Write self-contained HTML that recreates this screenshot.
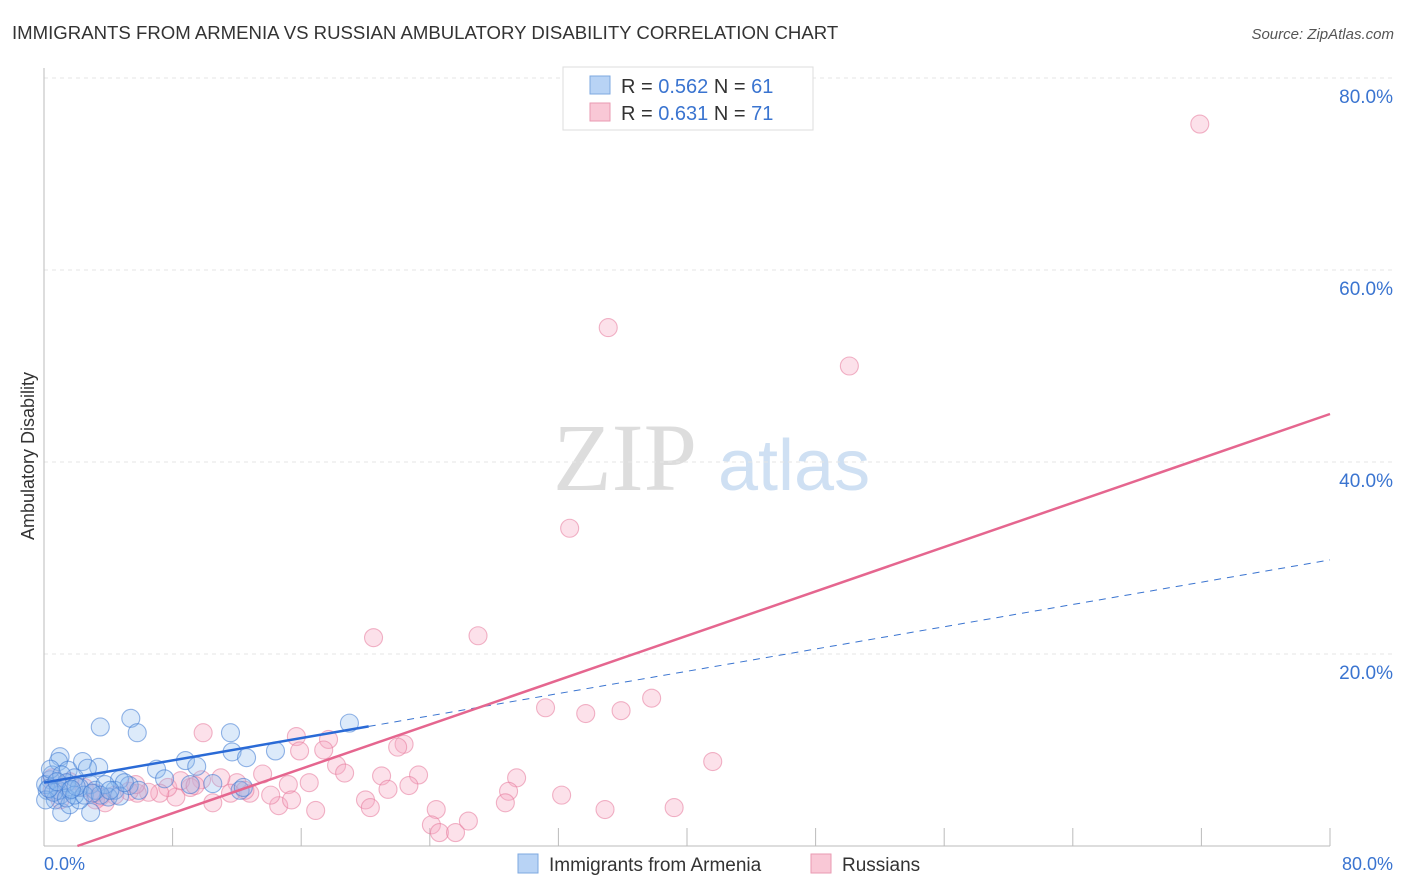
<!DOCTYPE html>
<html><head><meta charset="utf-8">
<style>
body{margin:0;background:#fff;font-family:"Liberation Sans",sans-serif;}
#wrap{position:relative;width:1406px;height:892px;overflow:hidden;}
</style></head><body>
<div id="wrap">
<svg id="chart" width="1406" height="892" xmlns="http://www.w3.org/2000/svg">
<text x="12" y="39" font-size="18.6" fill="#333">IMMIGRANTS FROM ARMENIA VS RUSSIAN AMBULATORY DISABILITY CORRELATION CHART</text>
<text x="1394" y="39" font-size="15" fill="#555" font-style="italic" text-anchor="end">Source: ZipAtlas.com</text>
<text x="34" y="456" font-size="18" fill="#333" text-anchor="middle" transform="rotate(-90 34 456)">Ambulatory Disability</text>
<text x="553" y="490" font-size="96" fill="#ddd" font-family="Liberation Serif,serif">ZIP</text>
<text x="718" y="490" font-size="72" fill="#cfe0f3">atlas</text>
<g id="grid"></g><g id="pts"></g><g id="lines"></g>
<g>
<rect x="563" y="67" width="250" height="63" fill="#fff" stroke="#ddd"/>
<rect x="590" y="76" width="20" height="18" fill="#b8d3f5" stroke="#7ea8e0"/>
<text x="621" y="93" font-size="20" fill="#333">R = <tspan fill="#3a74d0">0.562</tspan>   N = <tspan fill="#3a74d0">61</tspan></text>
<rect x="590" y="103" width="20" height="18" fill="#f9c8d6" stroke="#e99ab2"/>
<text x="621" y="120" font-size="20" fill="#333">R =  <tspan fill="#3a74d0">0.631</tspan>   N = <tspan fill="#3a74d0">71</tspan></text>
</g>
<g>
<rect x="518" y="854" width="20" height="19" fill="#b8d3f5" stroke="#7ea8e0"/>
<text x="549" y="871" font-size="19" fill="#333">Immigrants from Armenia</text>
<rect x="811" y="854" width="20" height="19" fill="#f9c8d6" stroke="#e99ab2"/>
<text x="842" y="871" font-size="19" fill="#333">Russians</text>
</g>
</svg>
</div>
<script>
const yTicks=[20,40,60,80];
const yTickLabels=["20.0%","40.0%","60.0%","80.0%"];
const xTickLabels=["0.0%","80.0%"];
const armeniaX=[1,0.9,1.5,2.4,3.4,2.7,3.5,5.4,5.8,7,8.8,9.5,11.6,11.7,12.6,14.4,19,4.7,5.3,4.4,2.9,1,1.6,0.4,0.2,0.7,1.1,2.9,1.6,2.2,0.1,0.5,1.9,4,4.7,5,9.1,12.2,12.4,0.4,1.1,1.4,2.2,3.2,3.8,0.9,0.1,0.6,1.4,1.9,2.5,3.5,4.1,5.9,0.3,2.0,3.0,7.5,10.5,0.8,1.7];
const armeniaY=[9.3,8.8,7.9,8.8,8.2,8.1,12.4,13.3,11.8,8.0,8.9,8.3,11.8,9.8,9.2,9.9,12.8,6.9,6.3,5.8,6.4,5.3,5.8,6.9,5.8,4.8,3.5,3.5,4.3,4.8,6.4,7.4,7.1,5.1,5.2,6.6,6.4,5.8,6.1,8.0,7.4,6.6,6.1,5.8,6.4,5.8,4.8,5.6,5.0,5.3,5.3,5.3,5.8,5.8,6.0,6.2,5.5,7.0,6.5,6.7,5.9];
const russiansX=[71.9,35.1,50.1,32.7,20.5,27,31.2,33.7,35.9,37.8,41.6,9.9,15.7,17.7,17.4,15.9,22.4,22,18.2,18.7,23.3,21,29.4,28.9,22.7,21.4,20,20.3,16.9,14.6,13.6,12,11,10.5,12.8,14.1,15.2,16.5,15.4,24.4,24.1,24.6,25.6,26.4,28.7,32.2,34.9,39.2,9.8,9.1,8.2,7.7,7.2,6.5,5.8,5.3,4.4,3.5,3.2,2.5,1.6,0.5,0.5,1,3.8,8.5,9.4,12.5,11.6,5.7,3.2];
const russiansY=[75.2,54,50,33.1,21.7,21.9,14.4,13.8,14.1,15.4,8.8,11.8,11.4,11.1,10,9.9,10.6,10.3,8.4,7.6,7.4,7.3,7.1,5.7,6.3,5.9,4.8,4,3.7,4.2,7.5,6.6,7.1,4.5,5.5,5.3,6.4,6.6,4.8,3.8,2.2,1.4,1.4,2.6,4.5,5.3,3.8,4,6.9,6.1,5.1,6.1,5.5,5.6,5.5,5.7,5.3,5.1,5.5,6.1,6.7,7.1,5.8,4.8,4.5,6.8,6.3,5.8,5.5,6.4,4.8];
const armeniaTrend=[6.6,29.8];
const armeniaSolidEnd=20.2;
const russiansTrend=[-1.2,45];
const NS="http://www.w3.org/2000/svg";
const X0=44,X1=1330,Y0=846,Y80=78;
const xs=v=>X0+v*(X1-X0)/80;
const ys=v=>Y0-v*(Y0-Y80)/80;
function mk(tag,attrs,parent){const e=document.createElementNS(NS,tag);for(const k in attrs)e.setAttribute(k,attrs[k]);parent.appendChild(e);return e;}
const grid=document.getElementById('grid');
yTicks.forEach((t,i)=>{
  const l=mk('line',{x1:X0,x2:1394,y1:ys(t),y2:ys(t),stroke:'#e6e6e6','stroke-width':1,'stroke-dasharray':'4,4'},grid);
  
  
  const tx=mk('text',{x:1393,y:ys(t)+25,'font-size':19,fill:'#3a74d0','text-anchor':'end'},grid);
  tx.textContent=yTickLabels[i];
  
  
});
let ax=mk('line',{x1:X0,x2:X0,y1:68,y2:Y0,stroke:'#bbb'},grid);


ax=mk('line',{x1:X0,x2:X1,y1:Y0,y2:Y0,stroke:'#bbb'},grid);


for(let i=1;i<=10;i++){
  const tk=mk('line',{x1:X0+i*(X1-X0)/10,x2:X0+i*(X1-X0)/10,y1:828,y2:Y0,stroke:'#bbb'},grid);
  
  
}
let xl=mk('text',{x:X0,y:870,'font-size':18,fill:'#3a74d0'},grid);xl.textContent=xTickLabels[0];


xl=mk('text',{x:1393,y:870,'font-size':18,fill:'#3a74d0','text-anchor':'end'},grid);xl.textContent=xTickLabels[1];


const pts=document.getElementById('pts');
russiansX.forEach((v,i)=>{
  const c=mk('circle',{cx:xs(v),cy:ys(russiansY[i]),r:9,fill:'rgba(247,170,195,0.35)',stroke:'rgba(230,120,155,0.55)','stroke-width':1.1},pts);
  
  
});
armeniaX.forEach((v,i)=>{
  const c=mk('circle',{cx:xs(v),cy:ys(armeniaY[i]),r:9,fill:'rgba(140,185,240,0.3)',stroke:'rgba(60,120,210,0.55)','stroke-width':1.1},pts);
  
  
});
const lines=document.getElementById('lines');
const by=x=>armeniaTrend[0]+(armeniaTrend[1]-armeniaTrend[0])*x/80;
let ln=mk('line',{x1:xs(armeniaSolidEnd),y1:ys(by(armeniaSolidEnd)),x2:xs(80),y2:ys(by(80)),stroke:'#3a74d0','stroke-width':1,'stroke-dasharray':'7,6'},lines);


ln=mk('line',{x1:xs(0),y1:ys(by(0)),x2:xs(armeniaSolidEnd),y2:ys(by(armeniaSolidEnd)),stroke:'#2a6ad6','stroke-width':2.5},lines);


const rz=-russiansTrend[0]*80/(russiansTrend[1]-russiansTrend[0]);
ln=mk('line',{x1:xs(rz),y1:ys(0),x2:xs(80),y2:ys(russiansTrend[1]),stroke:'#e5668f','stroke-width':2.5},lines);


</script>
</body></html>
